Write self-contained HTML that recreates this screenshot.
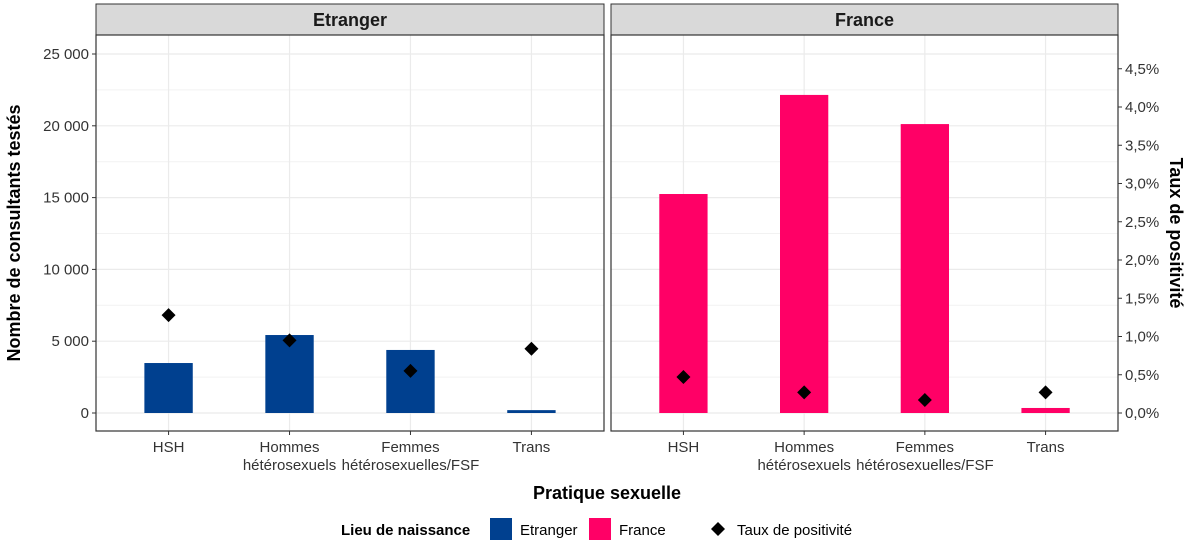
<!DOCTYPE html>
<html><head><meta charset="utf-8"><style>
body{margin:0;background:#fff;}
svg text{font-family:"Liberation Sans",Arial,sans-serif;}
</style></head><body>
<svg id="chart" width="1191" height="548" xmlns="http://www.w3.org/2000/svg">
<g id="root"></g>
</svg>
<script>
const categories=["HSH","Hommes hétérosexuels","Femmes hétérosexuelles/FSF","Trans"];
const catLine1=["HSH","Hommes","Femmes","Trans"];
const catLine2=["","hétérosexuels","hétérosexuelles/FSF",""];
const panels=["Etranger","France"];
const countsEtranger=[3480,5430,4390,200];
const countsFrance=[15250,22150,20120,350];
const rateEtranger=[1.28,0.95,0.55,0.84];
const rateFrance=[0.47,0.27,0.17,0.27];
const leftTicks=[0,5000,10000,15000,20000,25000];
const leftTickLabels=["0","5 000","10 000","15 000","20 000","25 000"];
const rightTicks=[0,0.5,1,1.5,2,2.5,3,3.5,4,4.5];
const colors=["#00408f","#ff0066"];

const NS="http://www.w3.org/2000/svg";
const root=document.getElementById('root');
function el(tag,attrs,parent,text){const e=document.createElementNS(NS,tag);for(const k in attrs)e.setAttribute(k,attrs[k]);if(text!==undefined)e.textContent=text;(parent||root).appendChild(e);return e;}
const Y0=413, PTOP=35, PBOT=431;
const yL=v=>Y0-v*(71.8/5000);
const yR=v=>Y0-v*76.5;
const panelX=[[96,604],[611,1118]];
const xCat=(p,i)=>{const [a,b]=panelX[p];const step=(b-a)/4.2;return a+step*(0.6+i);};
const counts=[countsEtranger,countsFrance];
const rates=[rateEtranger,rateFrance];

panels.forEach((name,p)=>{
  const [a,b]=panelX[p];
  const g=el('g',{});
  
  
  const strip=el('rect',{x:a,y:4,width:b-a,height:31,fill:'#d9d9d9',stroke:'#333','stroke-width':1},g);
  
  
  const st=el('text',{x:(a+b)/2,y:26,'text-anchor':'middle','font-size':18,'font-weight':'bold',fill:'#1a1a1a'},g,name);
  
  
  for(let i=0;i<leftTicks.length;i++){
    const v=leftTicks[i]+2500; const y=yL(v);
    if(y>PTOP) el('line',{x1:a,x2:b,y1:y,y2:y,stroke:'#f2f2f2','stroke-width':1},g);
  }
  leftTicks.forEach(v=>{const y=yL(v);el('line',{x1:a,x2:b,y1:y,y2:y,stroke:'#ebebeb','stroke-width':1.2},g);});
  categories.forEach((c,i)=>{const x=xCat(p,i);el('line',{x1:x,x2:x,y1:PTOP,y2:PBOT,stroke:'#ebebeb','stroke-width':1.2},g);});
  const step=(b-a)/4.2, bw=step*0.4;
  counts[p].forEach((v,i)=>{
    const x=xCat(p,i);
    const r=el('rect',{x:x-bw/2,y:yL(v),width:bw,height:Y0-yL(v),fill:colors[p]},g);
    
    
  });
  rates[p].forEach((v,i)=>{
    const x=xCat(p,i), y=yR(v), s=7;
    const d=el('polygon',{points:`${x},${y-s} ${x+s},${y} ${x},${y+s} ${x-s},${y}`,fill:'#000'},g);
    
    
  });
  el('rect',{x:a,y:PTOP,width:b-a,height:PBOT-PTOP,fill:'none',stroke:'#333','stroke-width':1.2},g);
  categories.forEach((c,i)=>{
    const x=xCat(p,i);
    el('line',{x1:x,x2:x,y1:PBOT,y2:PBOT+4,stroke:'#333'},g);
    const t=el('text',{x:x,y:452,'text-anchor':'middle','font-size':15,fill:'#333'},g,catLine1[i]);
    
    
    if(catLine2[i]){const t2=el('text',{x:x,y:470,'text-anchor':'middle','font-size':15,fill:'#333'},g,catLine2[i]);
    
    }
  });
});
leftTicks.forEach((v,i)=>{
  const y=yL(v);
  el('line',{x1:92,x2:96,y1:y,y2:y,stroke:'#333'});
  const t=el('text',{x:89,y:y+5,'text-anchor':'end','font-size':15,fill:'#333'},root,leftTickLabels[i]);
  
  
});
rightTicks.forEach(v=>{
  const y=yR(v);
  el('line',{x1:1118,x2:1122,y1:y,y2:y,stroke:'#333'});
  const t=el('text',{x:1125,y:y+5,'font-size':15,fill:'#333'},root,v.toFixed(1).replace('.',',')+'%');
  
  
});
let t=el('text',{x:0,y:0,'text-anchor':'middle','font-size':18,'font-weight':'bold',fill:'#000',transform:'translate(20,233) rotate(-90)'},root,'Nombre de consultants testés');

t=el('text',{x:0,y:0,'text-anchor':'middle','font-size':18,'font-weight':'bold',fill:'#000',transform:'translate(1170,233) rotate(90)'},root,'Taux de positivité');

t=el('text',{x:607,y:499,'text-anchor':'middle','font-size':18,'font-weight':'bold',fill:'#000'},root,'Pratique sexuelle');

const lg=el('g',{});

el('text',{x:341,y:535,'font-size':15,'font-weight':'bold',fill:'#000'},lg,'Lieu de naissance');
el('rect',{x:490,y:518,width:22,height:22,fill:colors[0]},lg);
el('text',{x:520,y:535,'font-size':15,fill:'#000'},lg,'Etranger');
el('rect',{x:589,y:518,width:22,height:22,fill:colors[1]},lg);
el('text',{x:619,y:535,'font-size':15,fill:'#000'},lg,'France');
el('polygon',{points:'718,522 725,529 718,536 711,529',fill:'#000'},lg);
el('text',{x:737,y:535,'font-size':15,fill:'#000'},lg,'Taux de positivité');
</script>
</body></html>
